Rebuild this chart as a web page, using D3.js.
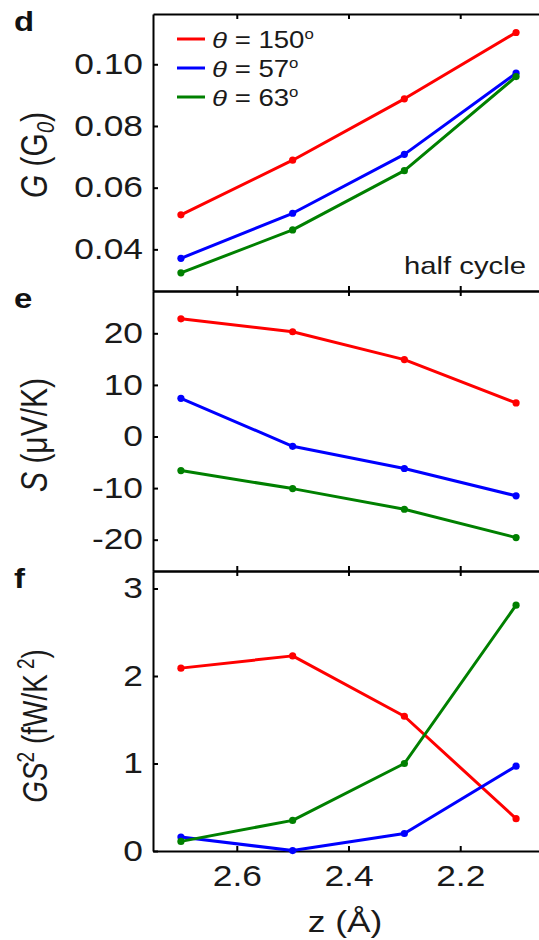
<!DOCTYPE html>
<html>
<head>
<meta charset="utf-8">
<script src="https://cdn.jsdelivr.net/npm/d3@7"></script>
<style>
  body { margin: 0; background: #fff; }
  svg { display: block; font-family: "Liberation Sans", Arial, Helvetica, sans-serif; }
</style>
</head>
<body>
<svg id="chart" width="539" height="940"></svg>
<script>
// Tip–sample distance (Å) and the three tilt angles
const zValues = [2.7, 2.5, 2.3, 2.1];
const xTicks = [2.6, 2.4, 2.2];
const angleLabels = ["150", "57", "63"];
const seriesColors = ["#ff0000", "#0000ff", "#008000"];

// Conductance G (G0)
const conductance150 = [0.0512, 0.0689, 0.0888, 0.1103];
const conductance57  = [0.0371, 0.0517, 0.0708, 0.0971];
const conductance63  = [0.0324, 0.0463, 0.0655, 0.0960];
const gTicks = [0.04, 0.06, 0.08, 0.10];

// Thermopower S (µV/K)
const seebeck150 = [22.8, 20.3, 14.9, 6.5];
const seebeck57  = [7.4, -1.9, -6.2, -11.5];
const seebeck63  = [-6.6, -10.1, -14.1, -19.6];
const sTicks = [-20, -10, 0, 10, 20];

// Power factor GS² (fW/K²)
const power150 = [2.09, 2.23, 1.54, 0.37];
const power57  = [0.16, 0.005, 0.20, 0.97];
const power63  = [0.11, 0.35, 1.00, 2.81];
const pTicks = [0, 1, 2, 3];

const SX = 1.22; // horizontal text stretch
const svg = d3.select("#chart");

const left = 153, right = 544;
const x = d3.scaleLinear().domain([2.75, 2.05]).range([left, right]);

const plainInt = d => String(d); // hyphen-minus, as in the printed figure

const panels = [
  { letter: "d", top: 14,  bottom: 291, domain: [0.0265, 0.1163], ticks: gTicks,
    fmt: d3.format(".2f"), series: [conductance150, conductance57, conductance63] },
  { letter: "e", top: 291, bottom: 571, domain: [-26.07, 28.2], ticks: sTicks,
    fmt: plainInt, series: [seebeck150, seebeck57, seebeck63] },
  { letter: "f", top: 571, bottom: 851, domain: [0, 3.2], ticks: pTicks,
    fmt: plainInt, series: [power150, power57, power63] }
];

function styleAxis(g) {
  g.attr("font-family", null).attr("font-size", null);
  g.selectAll(".domain, .tick line").attr("stroke", "#000").attr("stroke-width", 2);
}

function stretchLabels(g, size) {
  g.selectAll(".tick text")
    .attr("font-size", size)
    .attr("fill", "#1a1a1a")
    .attr("x", function () { return (+d3.select(this).attr("x") || 0) / SX; })
    .attr("transform", `scale(${SX},1)`);
}

const line = d3.line();

panels.forEach((p, pi) => {
  const y = d3.scaleLinear().domain(p.domain).range([p.bottom, p.top]);

  // left axis with labels
  const gl = svg.append("g").attr("transform", `translate(${left},0)`)
    .call(d3.axisLeft(y).tickValues(p.ticks).tickFormat(p.fmt)
      .tickSize(-5).tickSizeOuter(0).tickPadding(10));
  styleAxis(gl);
  stretchLabels(gl, 29);

  // right axis (ticks only)
  const gr = svg.append("g").attr("transform", `translate(${right},0)`)
    .call(d3.axisRight(y).tickValues(p.ticks).tickFormat("")
      .tickSize(-5).tickSizeOuter(0));
  styleAxis(gr);

  // top axis (ticks only)
  const gt = svg.append("g").attr("transform", `translate(0,${p.top})`)
    .call(d3.axisTop(x).tickValues(xTicks).tickFormat("")
      .tickSize(-5).tickSizeOuter(0));
  styleAxis(gt);

  // bottom axis, labelled only on the last panel
  const last = pi === panels.length - 1;
  const gb = svg.append("g").attr("transform", `translate(0,${p.bottom})`)
    .call(d3.axisBottom(x).tickValues(xTicks)
      .tickFormat(last ? d3.format(".1f") : "")
      .tickSize(-5).tickSizeOuter(0).tickPadding(14));
  styleAxis(gb);
  if (last) stretchLabels(gb, 29);

  // series lines and markers
  p.series.forEach((vals, si) => {
    const pts = zValues.map((z, i) => [x(z), y(vals[i])]);
    svg.append("path")
      .attr("d", line(pts))
      .attr("fill", "none")
      .attr("stroke", seriesColors[si])
      .attr("stroke-width", 3)
      .attr("stroke-linejoin", "round");
    svg.append("g").selectAll("circle").data(pts).join("circle")
      .attr("cx", d => d[0]).attr("cy", d => d[1]).attr("r", 3.6)
      .attr("fill", seriesColors[si]);
  });

  // panel letter
  svg.append("text")
    .attr("transform", `translate(14,${p.top + 17}) scale(${SX},1)`)
    .attr("font-size", 27).attr("font-weight", "bold").attr("fill", "#111")
    .text(p.letter);
});

// y-axis titles (rotated)
function yTitle(cx, cy, size) {
  return svg.append("text")
    .attr("transform", `translate(${cx},${cy}) scale(${SX},1) rotate(-90)`)
    .attr("text-anchor", "middle")
    .attr("font-size", size)
    .attr("fill", "#1a1a1a");
}

const t1 = yTitle(47, 155, 30);
t1.append("tspan").attr("font-style", "italic").text("G");
t1.append("tspan").text(" (G");
t1.append("tspan").attr("font-style", "italic").attr("font-size", 20).attr("dy", 6).text("0");
t1.append("tspan").attr("dy", -6).text(")");

const t2 = yTitle(47, 435, 30);
t2.append("tspan").attr("font-style", "italic").text("S");
t2.append("tspan").text(" (μV/K)");

const t3 = yTitle(47, 726, 28);
t3.append("tspan").attr("font-style", "italic").text("GS");
t3.append("tspan").attr("font-size", 19).attr("dy", -11).text("2");
t3.append("tspan").attr("dy", 11).text(" (fW/K");
t3.append("tspan").attr("font-size", 19).attr("dy", -11).attr("dx", 5).text("2");
t3.append("tspan").attr("dy", 11).text(")");

// x-axis title
svg.append("text")
  .attr("transform", `translate(345,932) scale(${SX},1)`)
  .attr("text-anchor", "middle").attr("font-size", 29).attr("fill", "#1a1a1a")
  .text("z (Å)");

// legend
angleLabels.forEach((a, i) => {
  const ly = 39 + 29 * i;
  svg.append("line")
    .attr("x1", 177).attr("x2", 205).attr("y1", ly).attr("y2", ly)
    .attr("stroke", seriesColors[i]).attr("stroke-width", 3);
  const t = svg.append("text")
    .attr("transform", `translate(212,${ly + 9}) scale(1.2,1)`)
    .attr("font-size", 23).attr("fill", "#1a1a1a");
  t.append("tspan").attr("font-style", "italic").text("θ");
  t.append("tspan").text(" = " + a);
  t.append("tspan").attr("font-size", 14).attr("dy", -9).text("o");
});

// annotation
svg.append("text")
  .attr("transform", `translate(526,274) scale(${SX},1)`)
  .attr("text-anchor", "end").attr("font-size", 24).attr("fill", "#1a1a1a")
  .text("half cycle");
</script>
</body>
</html>
